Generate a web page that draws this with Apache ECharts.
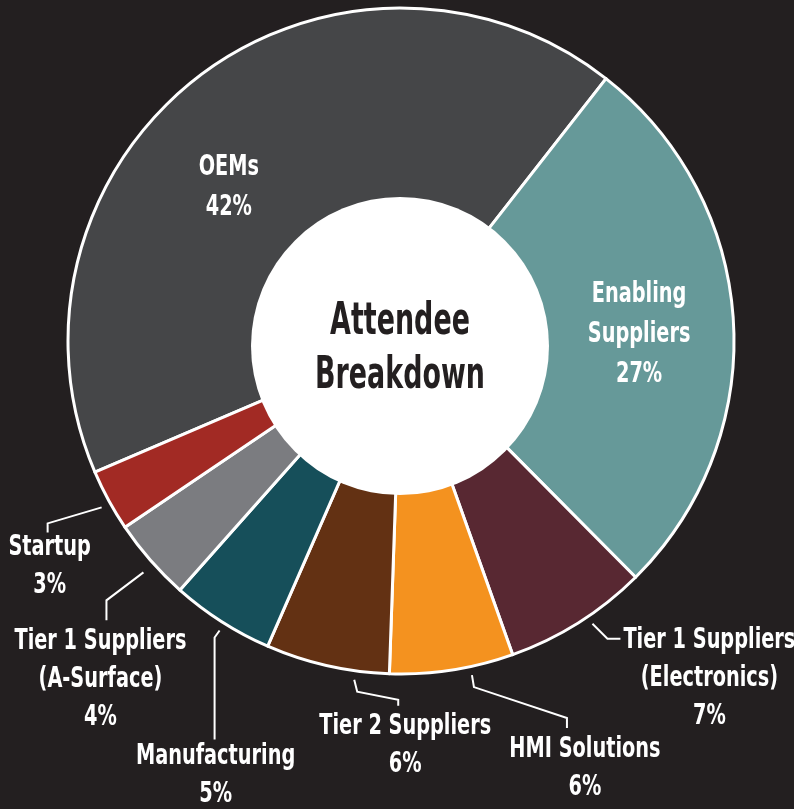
<!DOCTYPE html>
<html>
<head>
<meta charset="utf-8">
<script src="https://cdn.jsdelivr.net/npm/echarts@6/dist/echarts.min.js"></script>
<style>
html,body{margin:0;padding:0;background:#231f20;}
#chart{width:794px;height:809px;}
</style>
</head>
<body>
<div id="chart"></div>
<script>
// ---- data ----
const categories = ['OEMs', 'Enabling\nSuppliers', 'Tier 1 Suppliers\n(Electronics)', 'HMI Solutions',
  'Tier 2 Suppliers', 'Manufacturing', 'Tier 1 Suppliers\n(A-Surface)', 'Startup'];
const values = [42, 27, 7, 6, 6, 5, 4, 3];
const centerTitle = 'Attendee\nBreakdown';

// ---- style ----
const colors = ['#454648', '#669999', '#582832', '#f4921f', '#633113', '#164f5a', '#7b7c80', '#a22a24'];
const FONT = "'DejaVu Sans Condensed', 'DejaVu Sans', sans-serif";
const CX = 401, CY = 341, R = 333, R0 = 120;
const START_CW = 246.8; // clockwise from 12 o'clock
const LABEL_SX = 0.74, TITLE_SX = 0.68;
const insideIdx = [0, 1];
const insideShift = { 0: [-34, 26], 1: [12, 7] };
const leaders = {
  7: { pts: [[-7, 7], [-61, 23], [-61, 32]], lab: [-59, 33] },
  6: { pts: [[-7, 12], [-44, 40], [-44, 60]], lab: [-50, 67] },
  5: { pts: [[-2, 9], [-7, 16], [-7, 118]], lab: [-6, 121] },
  4: { pts: [[27, 14], [30, 26], [71, 34], [71, 40]], lab: [78, 47] },
  3: { pts: [[20, 5], [22, 17], [115, 48], [115, 58]], lab: [133, 65] },
  2: { pts: [[14, 1], [29, 16], [42, 16]], labLeft: [45, 16] }
};
const CAP_OFF = 5;

const total = values.reduce((a, b) => a + b, 0);
function midAngle(i) {
  let acc = 0;
  for (let k = 0; k < i; k++) acc += values[k];
  return (START_CW + (acc + values[i] / 2) / total * 360) * Math.PI / 180;
}
function pointAt(i, r) {
  const a = midAngle(i);
  return [CX + r * Math.sin(a), CY - r * Math.cos(a)];
}

const chart = echarts.init(document.getElementById('chart'), null, { renderer: 'canvas' });

const pieData = categories.map((c, i) => {
  const inside = insideIdx.indexOf(i) >= 0;
  return {
    name: c,
    value: values[i],
    itemStyle: { color: colors[i] },
    label: inside ? { position: 'inside', lineHeight: 40 } : { position: 'outside' },
    labelLine: { show: !inside }
  };
});

chart.setOption({
  backgroundColor: '#231f20',
  animation: false,
  series: [
    {
      type: 'pie',
      center: [CX, CY],
      radius: [R0, R],
      startAngle: 90 - START_CW + 360,
      clockwise: true,
      avoidLabelOverlap: false,
      silent: true,
      itemStyle: { borderColor: '#ffffff', borderWidth: 3 },
      label: {
        show: true,
        color: '#ffffff',
        fontFamily: FONT,
        fontWeight: 'bold',
        fontSize: 29,
        lineHeight: 38,
        align: 'center',
        formatter: p => p.name + '\n' + p.value + '%'
      },
      labelLine: { show: true, smooth: false, lineStyle: { color: '#ffffff', width: 2 } },
      labelLayout: function (params) {
        const i = params.dataIndex;
        const w = params.labelRect.width;
        if (insideIdx.indexOf(i) >= 0) {
          const b = pointAt(i, (R + R0) / 2);
          const s = insideShift[i];
          return { x: b[0] + s[0], y: b[1] + s[1], align: 'center', verticalAlign: 'middle' };
        }
        const E = pointAt(i, R);
        const L = leaders[i];
        const pts = L.pts.map(p => [E[0] + p[0], E[1] + p[1]]);
        if (L.labLeft) {
          return {
            x: E[0] + L.labLeft[0] + w * LABEL_SX / 2,
            y: E[1] + L.labLeft[1] - 17,
            align: 'center', verticalAlign: 'top',
            labelLinePoints: pts
          };
        }
        return {
          x: E[0] + L.lab[0],
          y: E[1] + L.lab[1] - CAP_OFF,
          align: 'center', verticalAlign: 'top',
          labelLinePoints: pts
        };
      },
      data: pieData
    },
    {
      type: 'pie',
      center: [400, 346],
      radius: [0, 149],
      silent: true,
      z: 5,
      itemStyle: { color: '#ffffff', borderWidth: 0 },
      label: {
        show: true,
        position: 'center',
        formatter: centerTitle,
        color: '#231f20',
        fontFamily: FONT,
        fontWeight: 'bold',
        fontSize: 44,
        lineHeight: 54
      },
      labelLayout: { dy: 4 },
      labelLine: { show: false },
      data: [{ name: 'center', value: 1 }]
    }
  ]
});

// condense the label text horizontally (the original uses a very narrow typeface)
function condense(seriesIndex, sx) {
  const data = chart.getModel().getSeriesByIndex(seriesIndex).getData();
  data.each(function (idx) {
    const el = data.getItemGraphicEl(idx);
    const txt = el && el.getTextContent && el.getTextContent();
    if (txt) { txt.scaleX = sx; txt.markRedraw(); }
  });
}
condense(0, LABEL_SX);
condense(1, TITLE_SX);
chart.getZr().refreshImmediately();
</script>
</body>
</html>
